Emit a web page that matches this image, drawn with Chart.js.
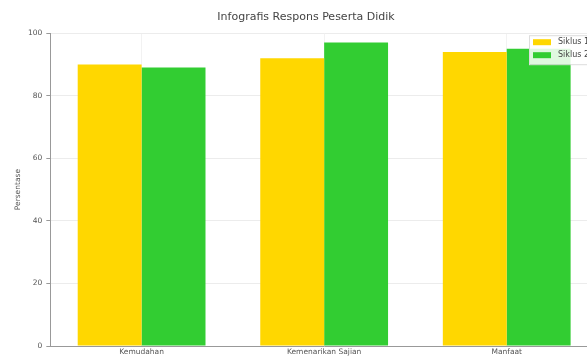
<!DOCTYPE html>
<html>
<head>
<meta charset="utf-8">
<script src="https://cdn.jsdelivr.net/npm/chart.js@4"></script>
<style>
  html, body { margin: 0; padding: 0; background: #fff; overflow: hidden; }
  #wrap { width: 598px; height: 359px; }
</style>
</head>
<body>
<div id="wrap"><canvas id="myChart"></canvas></div>
<script>
var categories = ["Kemudahan", "Kemenarikan Sajian", "Manfaat"];
var siklus1 = [90, 92, 94];
var siklus2 = [89, 97, 95];
var seriesNames = ["Siklus 1", "Siklus 2"];
var barColors = ["#ffd700", "#32cd32"];

// legend drawn inside the plot, top right (cut off by the window edge)
var innerLegend = {
    id: "innerLegend",
    afterDraw: function (chart) {
        var ctx = chart.ctx;
        var area = chart.chartArea;
        var x = area.right - 69;
        var y = area.top + 2;
        ctx.save();
        ctx.fillStyle = "rgba(255,255,255,0.85)";
        ctx.strokeStyle = "#dddddd";
        ctx.lineWidth = 1;
        ctx.fillRect(x, y, 80, 29);
        ctx.strokeRect(x + 0.5, y + 0.5, 80, 29);
        ctx.font = "8px 'DejaVu Sans'";
        ctx.textBaseline = "middle";
        chart.data.datasets.forEach(function (ds, i) {
            var ry = y + 7 + i * 13;
            ctx.fillStyle = ds.backgroundColor;
            ctx.fillRect(x + 4, ry - 3, 18, 6);
            ctx.fillStyle = "#444";
            ctx.fillText(ds.label, x + 29, ry);
        });
        ctx.restore();
    }
};

new Chart("myChart", {
    type: "bar",
    data: {
        labels: categories,
        datasets: [
            { label: seriesNames[0], data: siklus1, backgroundColor: barColors[0] },
            { label: seriesNames[1], data: siklus2, backgroundColor: barColors[1] }
        ]
    },
    options: {
        responsive: true,
        maintainAspectRatio: false,
        animation: false,
        layout: { padding: { top: 0, left: 14, right: 0, bottom: 0 } },
        datasets: {
            bar: { categoryPercentage: 0.7, barPercentage: 1.0 }
        },
        plugins: {
            legend: { display: false },
            tooltip: { enabled: false },
            title: {
                display: true,
                text: "Infografis Respons Peserta Didik",
                color: "#444",
                font: { family: "'DejaVu Sans'", size: 11, weight: "normal" },
                padding: { top: 11, bottom: 9 }
            }
        },
        scales: {
            x: {
                offset: true,
                grid: { color: "#f2f2f2", offset: false, drawTicks: false },
                border: { color: "#999" },
                ticks: {
                    color: "#555",
                    padding: 2,
                    font: { family: "'DejaVu Sans'", size: 7.5 }
                }
            },
            y: {
                min: 0,
                max: 100,
                grid: { color: "#ececec", tickLength: 4, tickColor: "#999" },
                border: { color: "#999" },
                ticks: {
                    stepSize: 20,
                    color: "#555",
                    padding: 4,
                    font: { family: "'DejaVu Sans'", size: 7.5 }
                },
                title: {
                    display: true,
                    text: "Persentase",
                    color: "#555",
                    padding: { top: 0, bottom: 1 },
                    font: { family: "'DejaVu Sans'", size: 7.5 }
                }
            }
        }
    },
    plugins: [innerLegend]
});
</script>
</body>
</html>
